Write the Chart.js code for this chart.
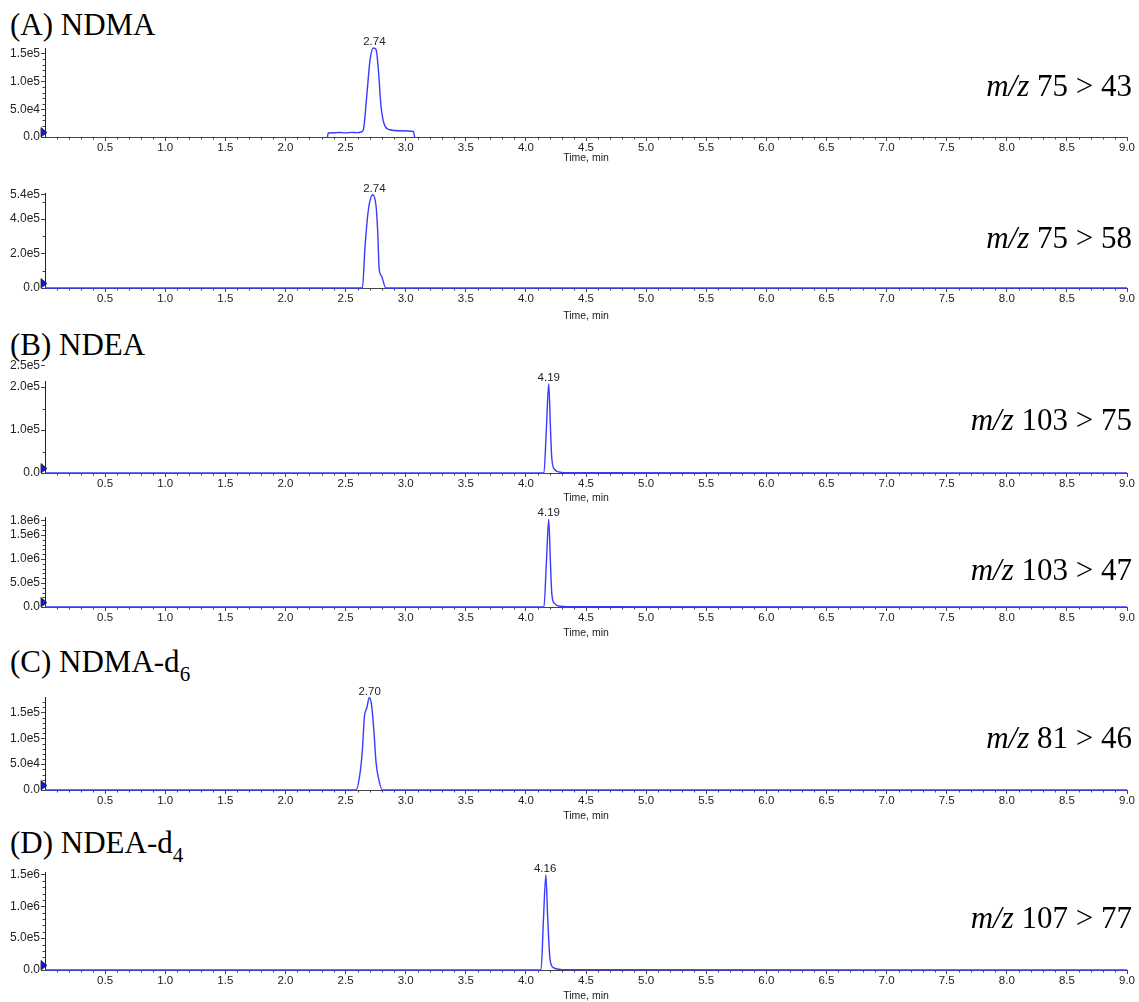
<!DOCTYPE html>
<html>
<head>
<meta charset="utf-8">
<script src="https://cdn.jsdelivr.net/npm/chart.js@4.4.1/dist/chart.umd.min.js"></script>
<style>
  body { margin: 0; background: #fff; }
  #page { position: relative; width: 1139px; height: 1002px; overflow: hidden; background: #fff; }
  canvas { position: absolute; left: 0; }
  .title, .mz {
    position: absolute; font-family: "Liberation Serif", "Times New Roman", serif;
    font-size: 31px; line-height: 1; color: #000; white-space: nowrap;
  }
  .mz { right: 7px; }
  .title sub { font-size: 21px; vertical-align: -9px; line-height: 0; }
</style>
</head>
<body>
<div id="page"></div>
<script>
// x axis (time, min)
const xTickVals = [0.5, 1.0, 1.5, 2.0, 2.5, 3.0, 3.5, 4.0, 4.5, 5.0, 5.5, 6.0, 6.5, 7.0, 7.5, 8.0, 8.5, 9.0];
const xTickLabels = ['0.5', '1.0', '1.5', '2.0', '2.5', '3.0', '3.5', '4.0', '4.5', '5.0', '5.5', '6.0', '6.5', '7.0', '7.5', '8.0', '8.5', '9.0'];

// (A) NDMA  m/z 75 > 43
const timeA1 = [2.35, 2.355, 2.40, 2.45, 2.50, 2.55, 2.60, 2.63, 2.648, 2.676, 2.704, 2.731, 2.754, 2.773, 2.795, 2.829, 2.87, 2.953, 3.064, 3.075];
const intA1 = [0, 7200, 7600, 8200, 7400, 8400, 7800, 9000, 13100, 73000, 139000, 160000, 157000, 121000, 55000, 19000, 13000, 11300, 10000, 0];
const yTicksA1 = [0, 50000, 100000, 150000];
const yLabelsA1 = ['0.0', '5.0e4', '1.0e5', '1.5e5'];

// (A) NDMA  m/z 75 > 58
const timeA2 = [0, 2.64, 2.662, 2.69, 2.726, 2.754, 2.768, 2.779, 2.801, 2.834, 9.0];
const intA2 = [0, 0, 241000, 454000, 541000, 473000, 319000, 116000, 67000, 0, 0];
const yTicksA2 = [0, 200000, 400000, 540000];
const yLabelsA2 = ['0.0', '2.0e5', '4.0e5', '5.4e5'];

// (B) NDEA  m/z 103 > 75
const timeB1 = [0, 4.15, 4.17, 4.19, 4.203, 4.215, 4.237, 4.293, 4.40, 9.0];
const intB1 = [0, 0, 100000, 208000, 115000, 36000, 9000, 1500, 500, 0];
const yTicksB1 = [0, 100000, 200000, 250000];
const yLabelsB1 = ['0.0', '1.0e5', '2.0e5', '2.5e5'];

// (B) NDEA  m/z 103 > 47
const timeB2 = [0, 4.15, 4.17, 4.19, 4.203, 4.215, 4.235, 4.29, 4.40, 9.0];
const intB2 = [0, 0, 900000, 1830000, 1000000, 300000, 80000, 15000, 4000, 0];
const yTicksB2 = [0, 500000, 1000000, 1500000, 1800000];
const yLabelsB2 = ['0.0', '5.0e5', '1.0e6', '1.5e6', '1.8e6'];

// (C) NDMA-d6  m/z 81 > 46
const timeC = [0, 2.587, 2.621, 2.640, 2.657, 2.676, 2.698, 2.718, 2.737, 2.754, 2.773, 2.806, 9.0];
const intC = [0, 0, 33500, 78000, 142000, 158000, 179000, 161500, 110000, 52700, 23800, 0, 0];
const yTicksC = [0, 50000, 100000, 150000];
const yLabelsC = ['0.0', '5.0e4', '1.0e5', '1.5e5'];

// (D) NDEA-d4  m/z 107 > 77
const timeD = [0, 4.126, 4.146, 4.166, 4.182, 4.201, 4.229, 4.285, 4.40, 9.0];
const intD = [0, 0, 790000, 1495000, 790000, 167000, 37000, 10000, 3000, 0];
const yTicksD = [0, 500000, 1000000, 1500000];
const yLabelsD = ['0.0', '5.0e5', '1.0e6', '1.5e6'];

const peakTimes = [2.74, 2.74, 4.19, 4.19, 2.70, 4.16];
const peakLabels = ['2.74', '2.74', '4.19', '4.19', '2.70', '4.16'];
const transitions = ['75 &gt; 43', '75 &gt; 58', '103 &gt; 75', '103 &gt; 47', '81 &gt; 46', '107 &gt; 77'];

const BLUE = '#3a3aff';
const AXIS = '#444';
const SANS = '"Liberation Sans", Arial, sans-serif';
const PAD_TOP = 22;

// layout: axis top, axis bottom, centre of "Time, min", y max, minor step, m/z baseline
const panels = [
  { t: timeA1, v: intA1, yt: yTicksA1, yl: yLabelsA1, top: 48, bottom: 137, title: 158, max: 160000, minor: 10000, mz: 96 },
  { t: timeA2, v: intA2, yt: yTicksA2, yl: yLabelsA2, top: 193, bottom: 288, title: 316, max: 551000, minor: 100000, mz: 248 },
  { t: timeB1, v: intB1, yt: yTicksB1, yl: yLabelsB1, top: 381, bottom: 473, title: 498, max: 214000, minor: 50000, mz: 430 },
  { t: timeB2, v: intB2, yt: yTicksB2, yl: yLabelsB2, top: 517, bottom: 607, title: 633, max: 1875000, minor: 100000, mz: 580 },
  { t: timeC, v: intC, yt: yTicksC, yl: yLabelsC, top: 697, bottom: 790, title: 816, max: 180000, minor: 10000, mz: 748 },
  { t: timeD, v: intD, yt: yTicksD, yl: yLabelsD, top: 872, bottom: 970, title: 996, max: 1540000, minor: 100000, mz: 928 }
];

const headings = [
  { html: '(A) NDMA', base: 35 },
  { html: '(B) NDEA', base: 355 },
  { html: '(C) NDMA-d<sub>6</sub>', base: 672 },
  { html: '(D) NDEA-d<sub>4</sub>', base: 853 }
];

// small ticks between the labelled ones
const minorTicks = {
  id: 'minorTicks',
  beforeDatasetsDraw(chart, args, opts) {
    const { ctx, chartArea: a, scales: { x, y } } = chart;
    ctx.save();
    ctx.strokeStyle = AXIS;
    ctx.lineWidth = 1;
    ctx.beginPath();
    for (let i = 1; i <= 90; i++) {
      if (i % 5 === 0) continue;
      const px = Math.round(x.getPixelForValue(i / 10)) + 0.5;
      ctx.moveTo(px, a.bottom);
      ctx.lineTo(px, a.bottom + 2.5);
    }
    for (let k = 1; k * opts.step < y.max; k++) {
      const v = k * opts.step;
      if (opts.major.some(m => Math.abs(m - v) < opts.step / 10)) continue;
      const py = Math.round(y.getPixelForValue(v)) + 0.5;
      ctx.moveTo(a.left - 2.5, py);
      ctx.lineTo(a.left, py);
    }
    ctx.stroke();
    ctx.restore();
  }
};

// retention time over the peak and the marker at the origin
const peakMarks = {
  id: 'peakMarks',
  afterDatasetsDraw(chart, args, opts) {
    const { ctx, chartArea: a, scales: { x, y } } = chart;
    const pts = chart.data.datasets[0].data;
    const top = pts.reduce((m, p) => (p.y > m.y ? p : m), pts[0]);
    ctx.save();
    ctx.font = '11.5px ' + SANS;
    ctx.fillStyle = '#222';
    ctx.textAlign = 'center';
    ctx.textBaseline = 'alphabetic';
    ctx.fillText(opts.text, x.getPixelForValue(opts.time), y.getPixelForValue(top.y) - 3);

    ctx.beginPath();
    ctx.moveTo(a.left - 4, a.bottom - 9.5);
    ctx.lineTo(a.left + 2, a.bottom - 4.5);
    ctx.lineTo(a.left - 4, a.bottom);
    ctx.closePath();
    ctx.fillStyle = '#1414e6';
    ctx.fill();
    ctx.strokeStyle = '#222';
    ctx.lineWidth = 0.8;
    ctx.stroke();
    ctx.restore();
  }
};

const page = document.getElementById('page');

headings.forEach(h => {
  const d = document.createElement('div');
  d.className = 'title';
  d.style.left = '10px';
  d.style.top = (h.base - 26) + 'px';
  d.innerHTML = h.html;
  page.appendChild(d);
});

panels.forEach((p, i) => {
  const cTop = p.top - PAD_TOP;
  const cBottom = p.title + 6;
  const canvas = document.createElement('canvas');
  canvas.width = 1139;
  canvas.height = cBottom - cTop;
  canvas.style.top = cTop + 'px';
  page.appendChild(canvas);

  const mz = document.createElement('div');
  mz.className = 'mz';
  mz.style.top = (p.mz - 26) + 'px';
  mz.innerHTML = '<i>m/z</i> ' + transitions[i];
  page.appendChild(mz);

  const xHeight = cBottom - p.bottom;

  new Chart(canvas, {
    type: 'line',
    data: {
      datasets: [{
        data: p.t.map((t, k) => ({ x: t, y: p.v[k] })),
        borderColor: BLUE,
        borderWidth: 1.4,
        pointRadius: 0,
        fill: false,
        cubicInterpolationMode: 'monotone',
        clip: false
      }]
    },
    options: {
      responsive: false,
      animation: false,
      events: [],
      layout: { padding: { top: PAD_TOP, right: 12, left: 0, bottom: 0 } },
      plugins: {
        legend: { display: false },
        tooltip: { enabled: false },
        minorTicks: { step: p.minor, major: p.yt },
        peakMarks: { time: peakTimes[i], text: peakLabels[i] }
      },
      scales: {
        x: {
          type: 'linear',
          min: 0,
          max: 9,
          afterFit: s => { s.height = xHeight; },
          afterBuildTicks: s => { s.ticks = xTickVals.map(v => ({ value: v })); },
          ticks: {
            callback: v => xTickLabels[xTickVals.indexOf(v)],
            font: { family: SANS, size: 11.5 },
            color: '#222',
            padding: 0,
            maxRotation: 0,
            autoSkip: false
          },
          grid: { drawOnChartArea: false, tickLength: 4, color: AXIS },
          border: { color: AXIS, width: 1 },
          title: {
            display: true,
            text: 'Time, min',
            font: { family: SANS, size: 10.5 },
            color: '#222',
            padding: 0
          }
        },
        y: {
          min: 0,
          max: p.max,
          afterFit: s => { s.width = 45; },
          afterBuildTicks: s => { s.ticks = p.yt.map(v => ({ value: v })); },
          ticks: {
            callback: v => p.yl[p.yt.indexOf(v)],
            font: { family: SANS, size: 12 },
            color: '#222',
            padding: 1,
            autoSkip: false
          },
          grid: { drawOnChartArea: false, tickLength: 4, color: AXIS },
          border: { color: '#222', width: 1 }
        }
      }
    },
    plugins: [minorTicks, peakMarks]
  });
});
</script>
</body>
</html>
